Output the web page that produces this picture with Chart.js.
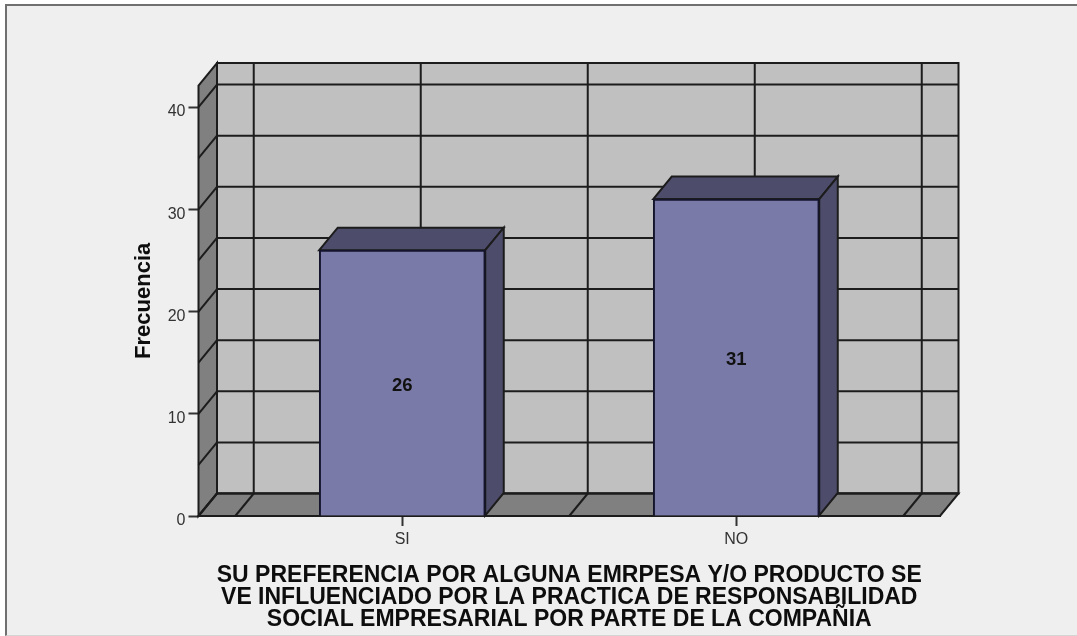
<!DOCTYPE html>
<html>
<head>
<meta charset="utf-8">
<title>Frecuencia</title>
<script src="https://cdn.jsdelivr.net/npm/chart.js@4"></script>
<style>
    html, body { margin: 0; padding: 0; background: #ffffff; }
    #marco {
        position: absolute; left: 5px; top: 4px; width: 1072px; height: 632px;
        box-sizing: border-box; background: #efefef;
        border-left: 2px solid #707070; border-top: 2px solid #707070;
        border-bottom: 1px solid #d4d4d4;
    }
    #grafico { position: absolute; left: 0; top: 0; }
</style>
</head>
<body>
<div id="marco"></div>
<canvas id="grafico" width="1077" height="636"></canvas>
<script>
const categorias = ['SI', 'NO'];
const frecuencias = [26, 31];
const marcasY = [0, 10, 20, 30, 40];
const tituloX = [
    'SU PREFERENCIA POR ALGUNA EMRPESA Y/O PRODUCTO SE',
    'VE INFLUENCIADO POR LA PRACTICA DE RESPONSABILIDAD',
    'SOCIAL EMPRESARIAL POR PARTE DE LA COMPAÑIA'
];
const tituloY = 'Frecuencia';

// fondo de la caja 3D
const fondoX = 18.5;
const fondoY = 22.5;
const linea = '#1c1c1c';

function cara(c, puntos, relleno) {
    c.beginPath();
    puntos.forEach((p, i) => i ? c.lineTo(p[0], p[1]) : c.moveTo(p[0], p[1]));
    c.closePath();
    c.fillStyle = relleno;
    c.fill();
    c.stroke();
}

function segmento(c, x1, y1, x2, y2) {
    c.beginPath();
    c.moveTo(x1, y1);
    c.lineTo(x2, y2);
    c.stroke();
}

const caja3d = {
    id: 'caja3d',
    beforeDatasetsDraw(chart) {
        const c = chart.ctx;
        const { left, right, top, bottom } = chart.chartArea;
        c.save();
        c.strokeStyle = linea;
        c.lineWidth = 2;

        // pared trasera, pared izquierda y piso
        cara(c, [[left + fondoX, top - fondoY], [right + fondoX, top - fondoY], [right + fondoX, bottom - fondoY], [left + fondoX, bottom - fondoY]], '#c0c0c0');
        cara(c, [[left, top], [left + fondoX, top - fondoY], [left + fondoX, bottom - fondoY], [left, bottom]], '#808080');
        cara(c, [[left, bottom], [left + fondoX, bottom - fondoY], [right + fondoX, bottom - fondoY], [right, bottom]], '#808080');

        // rejilla horizontal cada 5
        chart.scales.y.ticks.forEach(t => {
            const y = chart.scales.y.getPixelForValue(t.value);
            segmento(c, left, y, left + fondoX, y - fondoY);
            segmento(c, left + fondoX, y - fondoY, right + fondoX, y - fondoY);
        });

        // rejilla vertical cada media categoria
        chart.scales.x.ticks.forEach(t => {
            const x = chart.scales.x.getPixelForValue(t.value);
            segmento(c, x, bottom, x + fondoX, bottom - fondoY);
            segmento(c, x + fondoX, bottom - fondoY, x + fondoX, top - fondoY);
        });

        // caras superior y lateral de cada barra
        chart.getDatasetMeta(0).data.forEach(b => {
            const izq = b.x - b.width / 2;
            const der = b.x + b.width / 2;
            cara(c, [[izq, b.y], [izq + fondoX, b.y - fondoY], [der + fondoX, b.y - fondoY], [der, b.y]], '#4d4d6b');
            cara(c, [[der, b.y], [der + fondoX, b.y - fondoY], [der + fondoX, b.base - fondoY], [der, b.base]], '#4d4d6b');
        });
        c.restore();
    },
    afterDatasetsDraw(chart) {
        const c = chart.ctx;
        c.save();
        c.font = 'bold 18.5px "Liberation Sans"';
        c.fillStyle = '#111111';
        c.textAlign = 'center';
        c.textBaseline = 'middle';
        chart.getDatasetMeta(0).data.forEach((b, i) => {
            c.fillText(frecuencias[i], b.x, (b.y + b.base) / 2 + 3);
        });
        c.restore();
    }
};

new Chart(document.getElementById('grafico').getContext('2d'), {
    type: 'bar',
    data: {
        datasets: [{
            data: categorias.map((nombre, i) => ({ x: i + 1, y: frecuencias[i] })),
            backgroundColor: '#7a7aa8',
            borderColor: '#14142c',
            borderWidth: 2,
            barThickness: 166,
            clip: false
        }]
    },
    options: {
        responsive: false,
        animation: false,
        events: [],
        layout: { padding: { left: 131, right: 137, top: 85.6, bottom: 0 } },
        plugins: { legend: { display: false }, tooltip: { enabled: false } },
        scales: {
            x: {
                type: 'linear',
                offset: false,
                min: 0.39,
                max: 2.61,
                afterFit: scale => { scale.height = 120; },
                grid: {
                    offset: false,
                    drawOnChartArea: false,
                    tickLength: 10,
                    tickWidth: 2,
                    tickColor: ctx => ctx.tick && Number.isInteger(ctx.tick.value) ? '#333333' : 'transparent'
                },
                border: { color: linea, width: 2 },
                ticks: {
                    stepSize: 0.5,
                    includeBounds: false,
                    autoSkip: false,
                    maxRotation: 0,
                    padding: 4,
                    color: '#333333',
                    font: { family: '"Liberation Sans"', size: 16 },
                    callback: v => Number.isInteger(v) ? categorias[v - 1] : ''
                },
                title: {
                    display: true,
                    text: tituloX,
                    color: '#0d0d0d',
                    font: { family: '"Liberation Sans"', size: 23, weight: 'bold', lineHeight: 0.96 },
                    padding: { top: 0, bottom: 5 }
                }
            },
            y: {
                min: 0,
                max: 42.1,
                afterFit: scale => { scale.width = 67.5; },
                grid: {
                    drawOnChartArea: false,
                    tickLength: 10,
                    tickWidth: 2,
                    tickColor: ctx => ctx.tick && marcasY.includes(ctx.tick.value) ? '#333333' : 'transparent'
                },
                border: { color: linea, width: 2 },
                ticks: {
                    stepSize: 5,
                    includeBounds: false,
                    autoSkip: false,
                    padding: 3,
                    labelOffset: 5,
                    color: '#333333',
                    font: { family: '"Liberation Sans"', size: 16 },
                    callback: v => marcasY.includes(v) ? v : ''
                },
                title: {
                    display: true,
                    text: tituloY,
                    color: '#0d0d0d',
                    font: { family: '"Liberation Sans"', size: 22, weight: 'bold' },
                    padding: { top: 0, bottom: 0 }
                }
            }
        }
    },
    plugins: [caja3d]
});
</script>
</body>
</html>
